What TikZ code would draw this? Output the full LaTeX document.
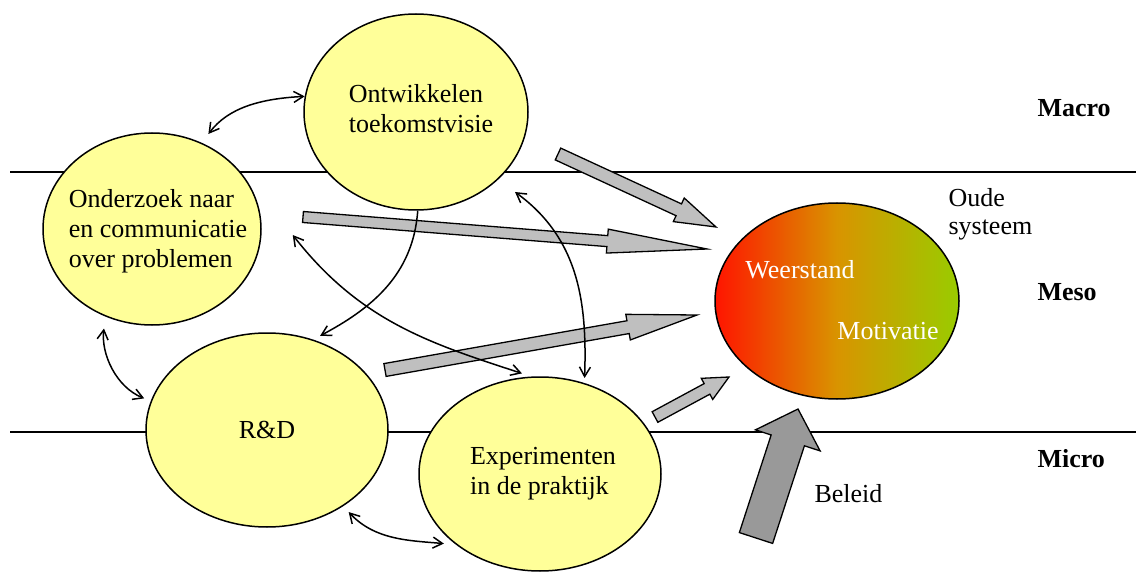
\documentclass[tikz,border=0pt]{standalone}
\usepackage{fontspec}
\setmainfont{Liberation Serif}
\usepackage{tikz}
\usetikzlibrary{arrows,arrows.meta,positioning,shapes,calc}
\pgfdeclarelayer{background layer}
\pgfsetlayers{background layer,main}
\definecolor{bubblefill}{rgb}{1,1,0.6}
\definecolor{blockgray}{rgb}{0.75,0.75,0.75}
\definecolor{policygray}{rgb}{0.6,0.6,0.6}
\definecolor{oldred}{rgb}{1,0.08,0}
\definecolor{oldmid}{rgb}{0.85,0.58,0}
\definecolor{oldgreen}{rgb}{0.6,0.8,0}
\newcommand{\blockarrow}[6][]{%
  \coordinate (neck) at ($(#3)!#6!(#2)$);
  \draw [block,#1] ($(#2)!#4!90:(#3)$) -- ($(neck)!#4!-90:(#2)$) -- ($(neck)!#5!-90:(#2)$) -- (#3)
    -- ($(neck)!#5!90:(#2)$) -- ($(neck)!#4!90:(#2)$) -- ($(#2)!#4!-90:(#3)$) -- cycle;}

\begin{document}
\begin{tikzpicture}[x=1pt,y=-1pt,font=\fontsize{26}{30}\selectfont]
\tikzstyle{bubble}=[draw=black,ellipse,fill=bubblefill,line width=1.5pt,inner sep=0pt]
\tikzstyle{link}=[line width=1.5pt,<->,>={Straight Barb[angle=60:11pt]}]
\tikzstyle{block}=[draw=black,line width=1.3pt,fill=blockgray,line join=miter]
\tikzstyle{level}=[anchor=west,font=\fontsize{26}{30}\selectfont\bfseries]
\useasboundingbox (0,0) rectangle (1136,572);
\begin{pgfonlayer}{background layer}
\draw [line width=1.5pt] (10,172) -- (1136,172);
\draw [line width=1.5pt] (10,432) -- (1136,432);
\end{pgfonlayer}
\node [bubble,minimum width=224pt,minimum height=196pt] at (416,112) (ontw) {};
\node [bubble,minimum width=218pt,minimum height=192pt] at (152,229) (onder) {};
\node [bubble,minimum width=242pt,minimum height=194pt] at (267,430) (rnd) {};
\node [bubble,minimum width=242pt,minimum height=194pt] at (540,474) (exp) {};
\node [draw=black,ellipse,line width=1.5pt,minimum width=244pt,minimum height=196pt,
  left color=oldred,right color=oldgreen,middle color=oldmid] at (837,301) (oud) {};
\node [align=left] at (421,109) (ontw-t) {Ontwikkelen\\toekomstvisie};
\node [align=left] at (158,231) (onder-t) {Onderzoek naar\\en communicatie\\over problemen};
\node at (267,430) (rnd-t) {R\&D};
\node [align=left] at (543,474) (exp-t) {Experimenten\\in de praktijk};
\node [text=white] at (800,270) (weer) {Weerstand};
\node [text=white] at (888,331) (motiv) {Motivatie};
\node [anchor=west,align=left,font=\fontsize{26}{28}\selectfont] at (945,214) (oude) {Oude\\systeem};
\node [level] at (1034,108) (macro) {Macro};
\node [level] at (1034,292) (meso) {Meso};
\node [level] at (1034,459) (micro) {Micro};
\node [anchor=west] at (811,494) (beleid) {Beleid};
\coordinate (a1s) at (558,154);
\coordinate (a1e) at (716,227);
\coordinate (a2s) at (303,217);
\coordinate (a2e) at (707,249);
\coordinate (a3s) at (385,370);
\coordinate (a3e) at (697,315);
\coordinate (a4s) at (655,417);
\coordinate (a4e) at (729,377);
\coordinate (bs) at (756,538);
\coordinate (be) at (798,409);
\blockarrow{a1s}{a1e}{6.5pt}{13pt}{41pt}
\blockarrow{a2s}{a2e}{5.5pt}{12pt}{100pt}
\blockarrow{a3s}{a3e}{6.5pt}{13pt}{70pt}
\blockarrow{a4s}{a4e}{6pt}{12pt}{25pt}
\blockarrow[fill=policygray]{bs}{be}{17.5pt}{34pt}{33pt}
\coordinate (onder-out) at ($(onder.east)+(31,6)$);
\coordinate (ontw-out) at ($(ontw.center)+(99,80)$);
\draw [link,shorten >=11pt] (ontw.172) to[out=183,in=53] (onder.60);
\draw [link,shorten <=12pt,shorten >=7pt] (onder.242) to[out=263,in=158] (rnd.166);
\draw [link,shorten <=8pt,shorten >=12pt] (rnd.315) to[out=313,in=175] (exp.220);
\draw [link,-{Straight Barb[angle=60:11pt]},shorten >=8pt] (ontw.271) to[out=266,in=28] (rnd.63);
\draw [link,shorten >=10pt] (onder-out) to[out=308,in=162] (exp.95);
\draw [link,shorten >=5pt] (ontw-out) to[out=324,in=88] (exp.64);
\end{tikzpicture}
\end{document}
